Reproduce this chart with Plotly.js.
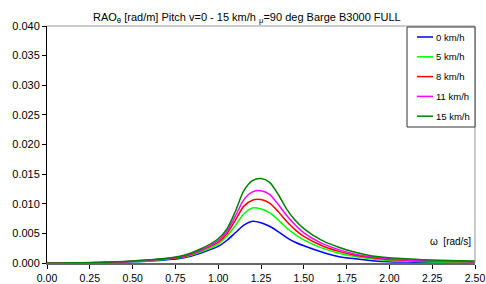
<!DOCTYPE html>
<html><head><meta charset="utf-8">
<script src="https://cdn.plot.ly/plotly-3.0.1.min.js"></script>
<style>html,body{margin:0;padding:0;background:#fff}#c{width:486px;height:284px}</style>
</head><body><div id="c"></div>
<script>
const omega = [0, 0.1, 0.2, 0.3, 0.4, 0.5, 0.6, 0.7, 0.8, 0.9, 1.0, 1.05, 1.1, 1.15, 1.2, 1.25, 1.3, 1.35, 1.4, 1.45, 1.5, 1.6, 1.7, 1.8, 1.9, 2.0, 2.1, 2.2, 2.3, 2.4, 2.5];
const v0  = [0, 0.00001, 0.00003, 0.00006, 0.00012, 0.0002, 0.00033, 0.00055, 0.0009, 0.0017, 0.0028, 0.0038, 0.0051, 0.0064, 0.00705, 0.0068, 0.0062, 0.0053, 0.0043, 0.0035, 0.0029, 0.0019, 0.0011, 0.0007, 0.0004, 0.0002, 0.00015, 0.0001, 0.00008, 0.00006, 0.00005];
const v5  = [0, 0.00001, 0.00004, 0.00008, 0.00015, 0.00025, 0.0004, 0.00065, 0.001, 0.0019, 0.0032, 0.0045, 0.0063, 0.0083, 0.0093, 0.0091, 0.0085, 0.0073, 0.0059, 0.0048, 0.0039, 0.0026, 0.0017, 0.0011, 0.0007, 0.0004, 0.0003, 0.0002, 0.00015, 0.00012, 0.0001];
const v8  = [0, 0.00001, 0.00004, 0.00008, 0.00016, 0.00028, 0.00045, 0.0007, 0.0011, 0.0021, 0.0035, 0.0049, 0.0072, 0.0096, 0.0106, 0.0107, 0.0101, 0.0087, 0.007, 0.0056, 0.0045, 0.003, 0.002, 0.0013, 0.0009, 0.0006, 0.00045, 0.00035, 0.00028, 0.00024, 0.0002];
const v11 = [0, 0.00001, 0.00004, 0.00009, 0.00018, 0.0003, 0.0005, 0.00075, 0.0012, 0.0022, 0.0038, 0.0053, 0.0079, 0.0107, 0.012, 0.0122, 0.0116, 0.0099, 0.008, 0.0064, 0.0051, 0.0034, 0.0023, 0.0015, 0.001, 0.0007, 0.0005, 0.0004, 0.0003, 0.00025, 0.0002];
const v15 = [0, 0.00002, 0.00005, 0.0001, 0.0002, 0.00035, 0.00055, 0.0008, 0.0013, 0.0024, 0.0041, 0.0057, 0.0087, 0.0122, 0.0139, 0.01426, 0.0136, 0.0116, 0.0091, 0.0072, 0.0058, 0.0039, 0.0027, 0.0018, 0.0012, 0.0009, 0.0007, 0.00055, 0.00045, 0.0004, 0.00035];
const seriesNames = ["0 km/h", "5 km/h", "8 km/h", "11 km/h", "15 km/h"];
const seriesValues = [v0, v5, v8, v11, v15];
const seriesColors = ["#0000ff", "#00ff00", "#ff0000", "#ff00ff", "#008000"];
const xTicks = [0, 0.25, 0.5, 0.75, 1.0, 1.25, 1.5, 1.75, 2.0, 2.25, 2.5];
const yTicks = [0, 0.005, 0.01, 0.015, 0.02, 0.025, 0.03, 0.035, 0.04];

const traces = seriesNames.map((n, i) => ({
  x: omega, y: seriesValues[i], name: n, type: 'scatter', mode: 'lines',
  line: {color: seriesColors[i], width: 1.5, shape: 'spline', smoothing: 0.8}
}));

const F = 'Liberation Sans, Arial, sans-serif';

// custom legend (paper coords; plot area 428 x 237 px)
const PW = 428, PH = 237;
const legX0 = 1 - 68 / PW, legX1 = 1, legY1 = 1 - 1 / PH, legY0 = 1 - 101 / PH;
const shapes = [
  {type: 'line', xref: 'paper', yref: 'paper', x0: 0, x1: 1, y0: 1, y1: 1, line: {color: '#999', width: 1}},
  {type: 'line', xref: 'paper', yref: 'paper', x0: 1, x1: 1, y0: 0, y1: 1, line: {color: '#999', width: 1}},
  {type: 'rect', xref: 'paper', yref: 'paper', x0: legX0, x1: legX1, y0: legY0, y1: legY1,
   fillcolor: '#fff', line: {color: '#333', width: 1}, layer: 'above'}
];
const annotations = [
  {text: 'ω  [rad/s]', xref: 'paper', yref: 'paper', x: 0.995, y: 21.5 / PH, xanchor: 'right', yanchor: 'middle',
   showarrow: false, font: {family: F, size: 10, color: '#000'}}
];
seriesNames.forEach((n, i) => {
  const yy = 1 - (11 + i * 19.8) / PH;
  shapes.push({type: 'line', xref: 'paper', yref: 'paper', x0: legX0 + 10 / PW, x1: legX0 + 26 / PW, y0: yy, y1: yy,
               line: {color: seriesColors[i], width: 1.5}, layer: 'above'});
  annotations.push({text: n, xref: 'paper', yref: 'paper', x: legX0 + 27 / PW, y: yy, xanchor: 'left', yanchor: 'middle',
                    showarrow: false, font: {family: F, size: 9.5, color: '#000'}});
});

const layout = {
  width: 486, height: 284,
  margin: {l: 47, r: 11, t: 26, b: 21, pad: 0},
  paper_bgcolor: '#fff', plot_bgcolor: '#fff',
  font: {family: F, size: 11, color: '#000'},
  title: {text: 'RAO<sub>θ</sub> [rad/m] Pitch v=0 - 15 km/h <sub>μ</sub>=90 deg Barge B3000 FULL',
          font: {family: F, size: 11, color: '#000'}, x: 0.508, xanchor: 'center', y: 0.94, yanchor: 'middle'},
  xaxis: {range: [0, 2.5], tickvals: xTicks, tickformat: '.2f', showgrid: false, zeroline: false,
          showline: true, linecolor: '#666', linewidth: 2, ticks: 'outside', ticklen: 4, tickcolor: '#000',
          tickfont: {family: F, size: 10.5}, fixedrange: true},
  yaxis: {range: [0, 0.04], tickvals: yTicks, tickformat: '.3f', showgrid: false, zeroline: false,
          showline: true, linecolor: '#000', linewidth: 1, ticks: 'outside', ticklen: 4, tickcolor: '#000',
          tickfont: {family: F, size: 11}, fixedrange: true},
  showlegend: false,
  shapes: shapes,
  annotations: annotations
};
Plotly.newPlot('c', traces, layout, {displayModeBar: false, staticPlot: true});
</script></body></html>
